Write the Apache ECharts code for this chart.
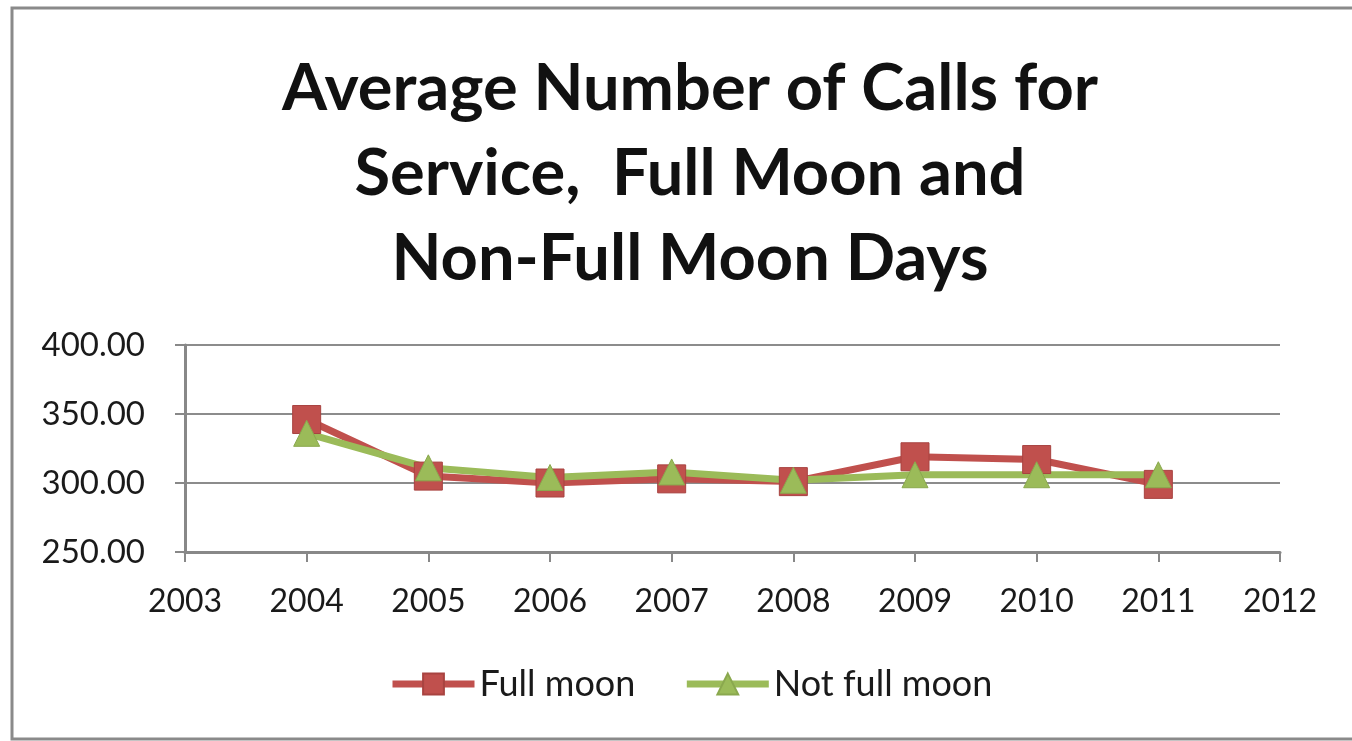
<!DOCTYPE html>
<html>
<head>
<meta charset="utf-8">
<script src="https://cdn.jsdelivr.net/npm/echarts@6/dist/echarts.min.js"></script>
<style>
html,body{margin:0;padding:0;background:#fff}
#main{width:1352px;height:741px}
</style>
</head>
<body>
<div id="main"></div>
<script>
var years=[2004,2005,2006,2007,2008,2009,2010,2011]
var fullMoon=[346,305,300,303,301,319,317,299]
var notFullMoon=[336,311,304,308,302,306,306,306]
var yTicks=[250,300,350,400]

function pairs(xs,ys){
    var out=[]
    for(var i=0;i<xs.length;i++){out.push([xs[i],ys[i]])}
    return out
}

var chart=echarts.init(document.getElementById('main'))
var font='Lato'
var option={
    backgroundColor:'#fff',
    animation:false,
    title:{
        text:'Average Number of Calls for\nService,  Full Moon and\nNon-Full Moon Days',
        left:685,
        textAlign:'center',
        top:42,
        textStyle:{fontFamily:font,fontWeight:'bold',fontSize:65,lineHeight:85,color:'#111'}
    },
    graphic:[{
        type:'rect',
        shape:{x:12,y:8,width:1400,height:731},
        style:{fill:null,stroke:'#8a8a8a',lineWidth:3},
        silent:true
    }],
    legend:{
        bottom:34,
        left:384,
        itemWidth:82,
        itemHeight:26,
        itemGap:48,
        lineStyle:{width:7},
        textStyle:{fontFamily:font,fontSize:36,color:'#1a1a1a'},
        data:['Full moon','Not full moon']
    },
    grid:{left:185,right:72,top:345,bottom:189},
    xAxis:{
        type:'value',
        min:2003,max:2012,interval:1,
        axisLine:{show:true,lineStyle:{color:'#888',width:3}},
        axisTick:{show:true,length:10,lineStyle:{color:'#888',width:2}},
        axisLabel:{fontFamily:font,fontSize:32,color:'#1a1a1a',margin:34,formatter:function(v){return String(v)}},
        splitLine:{show:false}
    },
    yAxis:{
        type:'value',
        min:yTicks[0],max:yTicks[yTicks.length-1],interval:50,
        axisLine:{show:true,lineStyle:{color:'#888',width:3}},
        axisTick:{show:true,length:10,lineStyle:{color:'#888',width:2}},
        axisLabel:{fontFamily:font,fontSize:33,color:'#1a1a1a',margin:40,formatter:function(v){return v.toFixed(2)}},
        splitLine:{show:true,lineStyle:{color:'#8c8c8c',width:2}}
    },
    series:[
        {
            name:'Full moon',type:'line',
            data:pairs(years,fullMoon),
            symbol:'rect',symbolSize:28,
            lineStyle:{color:'#C0504D',width:7},
            itemStyle:{color:'#C0504D',borderColor:'#a84340',borderWidth:1}
        },
        {
            name:'Not full moon',type:'line',
            data:pairs(years,notFullMoon),
            symbol:'triangle',symbolSize:26,
            lineStyle:{color:'#9BBB59',width:7},
            itemStyle:{color:'#9BBB59',borderColor:'#8aa84e',borderWidth:1}
        }
    ]
}
chart.setOption(option)
</script>
</body>
</html>
